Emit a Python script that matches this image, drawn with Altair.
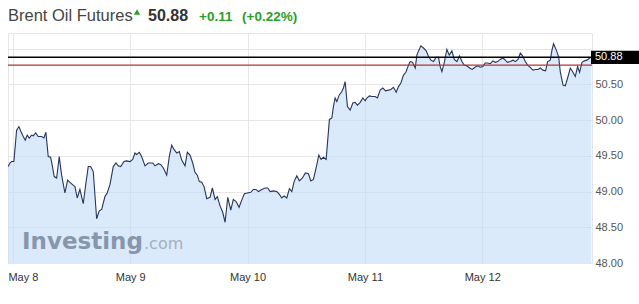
import altair as alt
import pandas as pd

# hours since May 8 00:00 and price
hours = [-0.96, -0.61, -0.27, 0.20, 0.76, 1.23, 1.64, 2.11, 2.52, 2.93, 3.34, 3.83, 4.16, 4.65, 5.18, 5.87,
         6.35, 6.75, 7.23, 7.72, 8.04, 8.45, 8.95, 9.48, 9.97, 10.64, 11.20, 11.67, 12.14, 12.69, 13.16,
         13.71, 14.39, 14.94, 15.41, 15.90, 16.44, 17.13, 17.66, 18.16, 18.83, 19.30, 19.86, 20.53, 21.08,
         21.55, 22.05, 22.72, 23.27, 23.95, 24.50, 24.97, 25.32, 25.85, 26.34, 27.02, 27.69, 28.60, 29.07,
         29.74, 30.23, 30.77, 31.46, 31.99, 32.48, 32.96, 33.51, 34.04, 34.53, 35.21, 35.68, 36.23, 36.78,
         37.25, 37.72, 38.13, 38.62, 39.10, 39.65, 40.32, 40.80, 41.35, 41.82, 42.37, 42.92, 43.40, 43.95,
         44.56, 45.09, 45.65, 46.26, 46.81, 47.34, 47.96, 48.65, 49.19, 49.74, 50.21, 50.91, 51.58, 52.13,
         52.61, 53.28, 53.98, 54.51, 55.00, 55.47, 56.02, 56.56, 57.05, 57.52, 58.07, 58.60, 59.22, 59.83,
         60.45, 60.94, 61.47, 62.02, 62.57, 63.04, 63.52, 64.07, 64.74, 65.24, 65.56, 65.91, 66.26, 66.73,
         67.28, 67.61, 67.96, 68.43, 68.98, 69.53, 70.00, 70.47, 71.03, 71.58, 72.05, 72.40, 72.93, 73.42,
         74.10, 74.57, 75.12, 75.67, 76.21, 76.82, 77.31, 77.84, 78.40, 78.87, 79.36, 79.89, 80.38, 80.91,
         81.26, 81.73, 82.29, 82.63, 83.04, 83.45, 83.99, 84.54, 85.01, 85.50, 86.03, 86.58, 87.05, 87.40,
         87.75, 88.22, 88.77, 89.25, 89.80, 90.27, 90.82, 91.35, 91.84, 92.31, 92.87, 93.40, 93.95, 94.51,
         95.04, 95.59, 96.14, 96.61, 97.09, 97.64, 98.19, 98.66, 99.13, 99.68, 100.24, 100.71, 101.18,
         101.73, 102.29, 102.76, 103.31, 103.78, 104.25, 104.80, 105.27, 105.82, 106.38, 106.85, 107.40,
         107.87, 108.42, 108.96, 109.37, 109.92, 110.26, 110.59, 111.15, 111.62, 111.96, 112.52, 112.99,
         113.46, 114.01, 114.56, 115.03, 115.50, 115.91, 116.41, 116.88, 117.43, 117.96, 118.31]
prices = [49.35, 49.40, 49.42, 49.42, 49.86, 49.91, 49.84, 49.77, 49.72, 49.79, 49.75, 49.79, 49.78, 49.82, 49.77, 49.77,
          49.75, 49.83, 49.49, 49.48, 49.37, 49.21, 49.19, 49.49, 49.23, 48.98, 49.16, 49.13, 49.10, 49.07, 48.91,
          49.03, 48.83, 49.12, 49.35, 49.35, 49.28, 48.62, 48.73, 48.75, 48.93, 48.98, 49.10, 49.35, 49.40,
          49.36, 49.35, 49.42, 49.43, 49.42, 49.45, 49.54, 49.52, 49.55, 49.49, 49.36, 49.40, 49.40, 49.36,
          49.39, 49.38, 49.33, 49.23, 49.49, 49.65, 49.59, 49.54, 49.56, 49.44, 49.36, 49.55, 49.51, 49.40,
          49.27, 49.23, 49.14, 49.13, 49.07, 48.90, 48.92, 49.05, 48.89, 48.93, 48.80, 48.71, 48.57, 48.92,
          48.74, 48.89, 48.86, 48.78, 48.88, 48.97, 48.98, 48.99, 49.03, 49.03, 49.00, 49.03, 49.05, 49.05,
          49.00, 49.01, 49.00, 48.96, 48.91, 48.94, 48.91, 49.04, 49.00, 49.14, 49.22, 49.15, 49.19, 49.26,
          49.25, 49.15, 49.17, 49.33, 49.51, 49.45, 49.48, 49.45, 50.01, 50.03, 50.19, 50.31, 50.26, 50.35,
          50.40, 50.45, 50.54, 50.19, 50.14, 50.24, 50.25, 50.21, 50.25, 50.31, 50.27, 50.31, 50.34, 50.33,
          50.33, 50.31, 50.42, 50.45, 50.41, 50.42, 50.43, 50.46, 50.39, 50.47, 50.52, 50.63, 50.67, 50.77,
          50.82, 50.81, 50.73, 50.91, 50.98, 51.04, 51.01, 50.97, 50.89, 50.84, 50.82, 50.88, 50.88, 50.75,
          50.68, 50.80, 50.99, 50.91, 50.97, 50.85, 50.82, 50.90, 50.82, 50.77, 50.76, 50.73, 50.71, 50.74,
          50.76, 50.74, 50.75, 50.80, 50.80, 50.79, 50.83, 50.81, 50.82, 50.85, 50.87, 50.84, 50.81,
          50.82, 50.84, 50.82, 50.85, 50.94, 50.90, 50.82, 50.77, 50.74, 50.70, 50.71, 50.71,
          50.73, 50.70, 50.69, 50.82, 50.84, 50.98, 51.07, 50.98, 50.89, 50.68, 50.49, 50.48,
          50.59, 50.73, 50.67, 50.61, 50.75, 50.67, 50.81, 50.83, 50.84, 50.87, 50.88]

day_ticks = [0, 24, 48, 72, 96]
day_labels = ["May 8", "May 9", "May 10", "May 11", "May 12"]
price_ticks = [48.0, 48.5, 49.0, 49.5, 50.0, 50.5, 51.0]
last_price = 50.88
prev_close = 50.77
change = "+0.11"
change_pct = "(+0.22%)"
title_text = "Brent Oil Futures"

df = pd.DataFrame({"h": hours, "p": prices})

W, H = 584, 230
label_map = "{" + ",".join(f"'{t}':'{l}'" for t, l in zip(day_ticks, day_labels)) + "}"

x_scale = alt.Scale(domain=[-1.0, 118.45], nice=False, zero=False)
y_scale = alt.Scale(domain=[48.0, 51.22], nice=False, zero=False)
x_axis = alt.Axis(values=day_ticks, title=None, grid=True, gridColor="#e6e6e6",
                  ticks=False, domain=False, labelExpr=f"{label_map}[datum.value]",
                  labelFont="Liberation Sans", labelFontSize=11, labelColor="#333333",
                  labelPadding=8, labelFlush=10, labelFlushOffset=5, labelOverlap=False)
y_axis = alt.Axis(orient="right", values=price_ticks, title=None, grid=True, gridColor="#e6e6e6",
                  ticks=False, domain=False,
                  labelExpr="datum.value >= 51 ? '' : format(datum.value, '.2f')",
                  labelFont="Liberation Sans", labelFontSize=11, labelColor="#555555",
                  labelPadding=3, labelOverlap=False, labelBound=False)


def Y(field):
    return alt.Y(field, scale=y_scale, axis=y_axis)


x = alt.X("h:Q", scale=x_scale, axis=x_axis)

area = alt.Chart(df).mark_area(color="#c2dcf7", opacity=0.6).encode(x=x, y=Y("p:Q"), y2=alt.datum(48.0))
line = alt.Chart(df).mark_line(color="#27355a", strokeWidth=1.1).encode(x=x, y=Y("p:Q"))

ref = pd.DataFrame({"v": [prev_close, last_price], "c": ["#b03535", "#000000"], "w": [1.2, 1.5]})
rules = alt.Chart(ref).mark_rule().encode(
    y=Y("v:Q"), color=alt.Color("c:N", scale=None), strokeWidth=alt.StrokeWidth("w:Q", scale=None))

badge_df = pd.DataFrame({"top": [last_price + 0.093], "bot": [last_price - 0.093],
                         "v": [last_price], "t": [f"{last_price:.2f}"]})
badge = alt.Chart(badge_df).mark_rect(color="#000000").encode(
    y=Y("top:Q"), y2="bot:Q", x=alt.value(W - 1), x2=alt.value(W + 47))
badge_text = alt.Chart(badge_df).mark_text(color="#ffffff", font="Liberation Sans", fontSize=11,
                                           align="left", baseline="middle").encode(
    y=Y("v:Q"), x=alt.value(W + 3), text="t:N")

wm1 = alt.Chart(pd.DataFrame({"t": ["Investing"]})).mark_text(
    font="DejaVu Sans", fontWeight="bold", fontSize=23, color="#8796aa", align="left",
    baseline="alphabetic").encode(x=alt.value(14), y=alt.value(216), text="t:N")
wm2 = alt.Chart(pd.DataFrame({"t": [".com"]})).mark_text(
    font="DejaVu Sans", fontSize=16, color="#a3b0c0", align="left",
    baseline="alphabetic").encode(x=alt.value(136), y=alt.value(216), text="t:N")

head = alt.Chart(pd.DataFrame({"t": [title_text]})).mark_text(
    font="Liberation Sans", fontSize=16.5, color="#444444", align="left",
    baseline="alphabetic").encode(x=alt.value(0), y=alt.value(-12), text="t:N")
arrow = alt.Chart(pd.DataFrame({"a": [1]})).mark_point(
    shape="triangle-up", filled=True, color="#2b9e2b", size=40, opacity=1).encode(
    x=alt.value(129), y=alt.value(-21))
price_txt = alt.Chart(pd.DataFrame({"t": [f"{last_price:.2f}"]})).mark_text(
    font="Liberation Sans", fontWeight="bold", fontSize=16, color="#333333", align="left",
    baseline="alphabetic").encode(x=alt.value(140), y=alt.value(-12), text="t:N")
chg_txt = alt.Chart(pd.DataFrame({"t": [change]})).mark_text(
    font="Liberation Sans", fontWeight="bold", fontSize=13.5, color="#2b9e2b", align="left",
    baseline="alphabetic").encode(x=alt.value(191), y=alt.value(-12), text="t:N")
pct_txt = alt.Chart(pd.DataFrame({"t": [change_pct]})).mark_text(
    font="Liberation Sans", fontWeight="bold", fontSize=13.5, color="#2b9e2b", align="left",
    baseline="alphabetic").encode(x=alt.value(234), y=alt.value(-12), text="t:N")

chart = alt.layer(area, wm1, wm2, line, rules, badge, badge_text, head, arrow, price_txt, chg_txt, pct_txt).properties(
    width=W, height=H,
    padding={"left": 8, "top": 33, "right": 47, "bottom": 41},
    autosize=alt.AutoSizeParams(type="none"),
    background="#ffffff",
).configure_view(stroke="#e6e6e6", strokeWidth=1)

chart.save("out.html", embed_options={"renderer": "svg", "actions": False})
